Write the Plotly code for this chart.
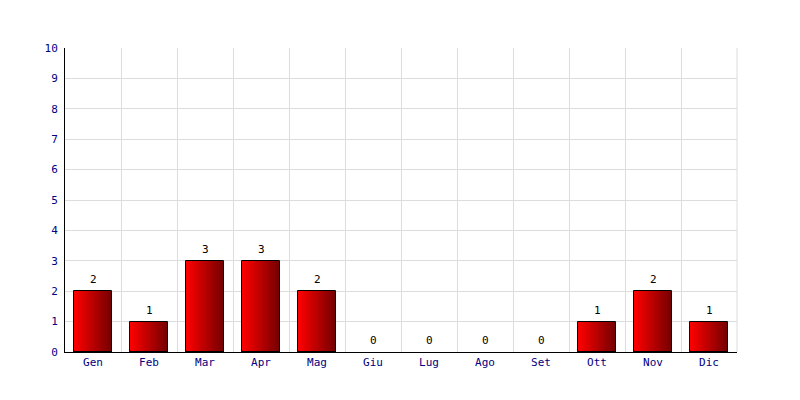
import plotly.graph_objects as go

months = ["Gen", "Feb", "Mar", "Apr", "Mag", "Giu", "Lug", "Ago", "Set", "Ott", "Nov", "Dic"]
values = [2, 1, 3, 3, 2, 0, 0, 0, 0, 1, 2, 1]
y_ticks = list(range(0, 11))

FONT = "DejaVu Sans Mono"
x = list(range(len(months)))
bar_w = 0.68
n_slices = 24
c0 = (255, 0, 0)
c1 = (118, 0, 0)

fig = go.Figure()
for i in range(n_slices):
    t = i / (n_slices - 1)
    col = "rgb(%d,%d,%d)" % tuple(round(a + (b - a) * t) for a, b in zip(c0, c1))
    fig.add_trace(go.Bar(
        x=x, y=values,
        width=bar_w / n_slices * 1.15,
        offset=-bar_w / 2 + i * bar_w / n_slices,
        marker=dict(color=col, line=dict(width=0)),
        hoverinfo="skip", showlegend=False,
    ))
# outline
fig.add_trace(go.Bar(
    x=x, y=values, width=bar_w,
    marker=dict(color="rgba(0,0,0,0)",
                line=dict(color="black", width=[1 if v > 0 else 0 for v in values])),
    showlegend=False,
))

for xi, v in zip(x, values):
    fig.add_annotation(x=xi, y=v, text=str(v), showarrow=False,
                       yanchor="bottom", yshift=3,
                       font=dict(family=FONT, size=11, color="black"))

# right border of plot area (grid colour)
fig.add_shape(type="line", xref="paper", yref="paper", x0=1, x1=1, y0=0, y1=1,
              line=dict(color="#dcdcdc", width=1), layer="below")

fig.update_layout(
    width=800, height=400,
    margin=dict(l=57, r=71, t=40, b=56),
    paper_bgcolor="white", plot_bgcolor="white",
    barmode="overlay", bargap=0,
    font=dict(family=FONT, size=11, color="#000080"),
    xaxis=dict(
        range=[-0.5, 11.5], tickmode="array", tickvals=x, ticktext=months,
        showgrid=False, showline=True, linecolor="black", linewidth=1,
        ticks="", zeroline=False, mirror=False,
        minor=dict(tickmode="array", tickvals=[i + 0.5 for i in x], showgrid=True,
                   gridcolor="#dcdcdc", gridwidth=1, ticks=""),
        fixedrange=True,
    ),
    yaxis=dict(
        range=[0, 10], tickmode="array", tickvals=y_ticks,
        showgrid=True, gridcolor="#dcdcdc", gridwidth=1,
        showline=True, linecolor="black", linewidth=1,
        ticks="", zeroline=False, ticklabelstandoff=4,
        fixedrange=True,
    ),
)
fig.write_html("out.html")
